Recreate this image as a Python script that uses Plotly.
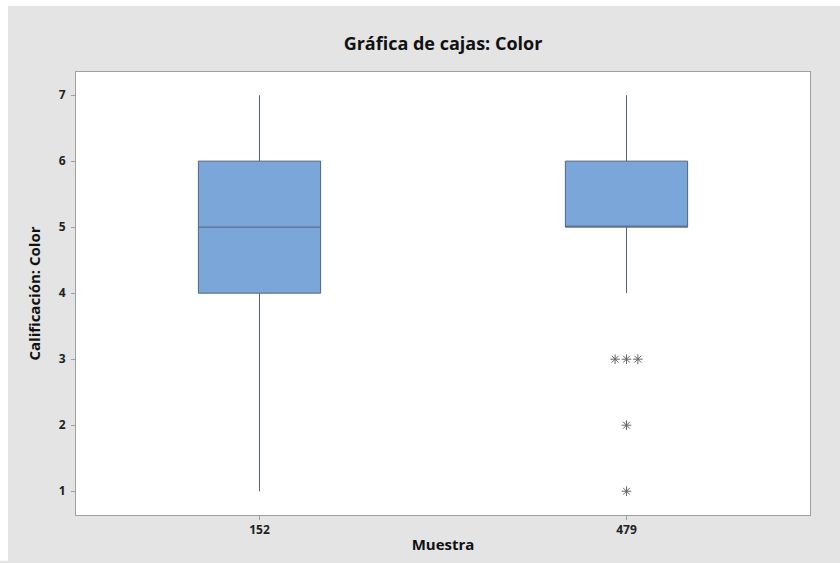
import plotly.graph_objects as go
from collections import Counter

# ---- data ----
categories = ["152", "479"]
q1 = [4, 5]
medians = [5, 5]
q3 = [6, 6]
lower_whisker = [1, 4]
upper_whisker = [7, 7]
outliers_479 = [3, 3, 3, 2, 1]
y_ticks = [1, 2, 3, 4, 5, 6, 7]

W, H = 840, 563
ML, MR, MT, MB = 76, 30, 72, 42
pw = W - ML - MR
ph = H - MT - MB

BOX_FILL = "#7BA6D9"
BOX_LINE = "#56647A"
GREY_BG = "#E4E4E4"

fig = go.Figure()

xs = list(range(len(categories)))
fig.add_trace(go.Box(
    x=xs,
    q1=q1, median=medians, q3=q3,
    lowerfence=lower_whisker, upperfence=upper_whisker,
    width=0.333,
    fillcolor=BOX_FILL,
    line=dict(color=BOX_LINE, width=1),
    whiskerwidth=0,
    showlegend=False,
    hoverinfo="skip",
))

# Outliers: duplicates placed side by side (Minitab style)
ox, oy = [], []
counts = Counter(outliers_479)
step = 0.031
for val, n in counts.items():
    for i in range(n):
        ox.append(1 + (i - (n - 1) / 2) * step)
        oy.append(val)
fig.add_trace(go.Scatter(
    x=ox, y=oy, mode="markers",
    marker=dict(symbol="asterisk-open", size=8, color="#666666",
                line=dict(color="#666666", width=1)),
    showlegend=False, hoverinfo="skip",
))

font_family = "Open Sans, Noto Sans, DejaVu Sans, sans-serif"

fig.update_layout(
    width=W, height=H,
    margin=dict(l=ML, r=MR, t=MT, b=MB),
    paper_bgcolor=GREY_BG,
    plot_bgcolor="white",
    font=dict(family=font_family, color="#222222"),
    title=dict(text="<b>Gráfica de cajas: Color</b>", x=(ML + pw / 2) / W, xanchor="center",
               y=1 - 44 / H, yanchor="middle", font=dict(size=18, color="#111111")),
    xaxis=dict(
        range=[-0.5, 1.5], tickvals=xs, ticktext=[f"<b>{c}</b>" for c in categories],
        showgrid=False, zeroline=False, showline=True, linecolor="#A0A0A0", mirror=True,
        ticks="outside", ticklen=4, tickcolor="#A0A0A0",
        tickfont=dict(size=12, color="#222222"),
        title=dict(text="<b>Muestra</b>", font=dict(size=15, color="#111111"), standoff=2),
    ),
    yaxis=dict(
        range=[0.64, 7.35], tickvals=y_ticks, ticktext=[f"<b>{t}</b>" for t in y_ticks],
        showgrid=False, zeroline=False, showline=True, linecolor="#A0A0A0", mirror=True,
        ticks="outside", ticklen=4, tickcolor="#A0A0A0", ticklabelstandoff=3,
        tickfont=dict(size=12, color="#222222"),
        title=dict(text="<b>Calificación: Color</b>", font=dict(size=15, color="#111111"), standoff=14),
    ),
    shapes=[
        dict(type="rect", xref="paper", yref="paper",
             x0=-ML / pw - 0.01, x1=(8 - ML) / pw, y0=-MB / ph - 0.01, y1=1 + MT / ph + 0.01,
             fillcolor="white", line=dict(width=0), layer="above"),
        dict(type="rect", xref="paper", yref="paper",
             x0=-ML / pw - 0.01, x1=1 + MR / pw + 0.01, y0=1 + (MT - 5) / ph, y1=1 + MT / ph + 0.01,
             fillcolor="white", line=dict(width=0), layer="above"),
    ],
)

fig.write_html(
    "out.html",
    config={"displayModeBar": False},
    post_script="document.body.style.margin='0px';document.body.style.overflow='hidden';",
)
